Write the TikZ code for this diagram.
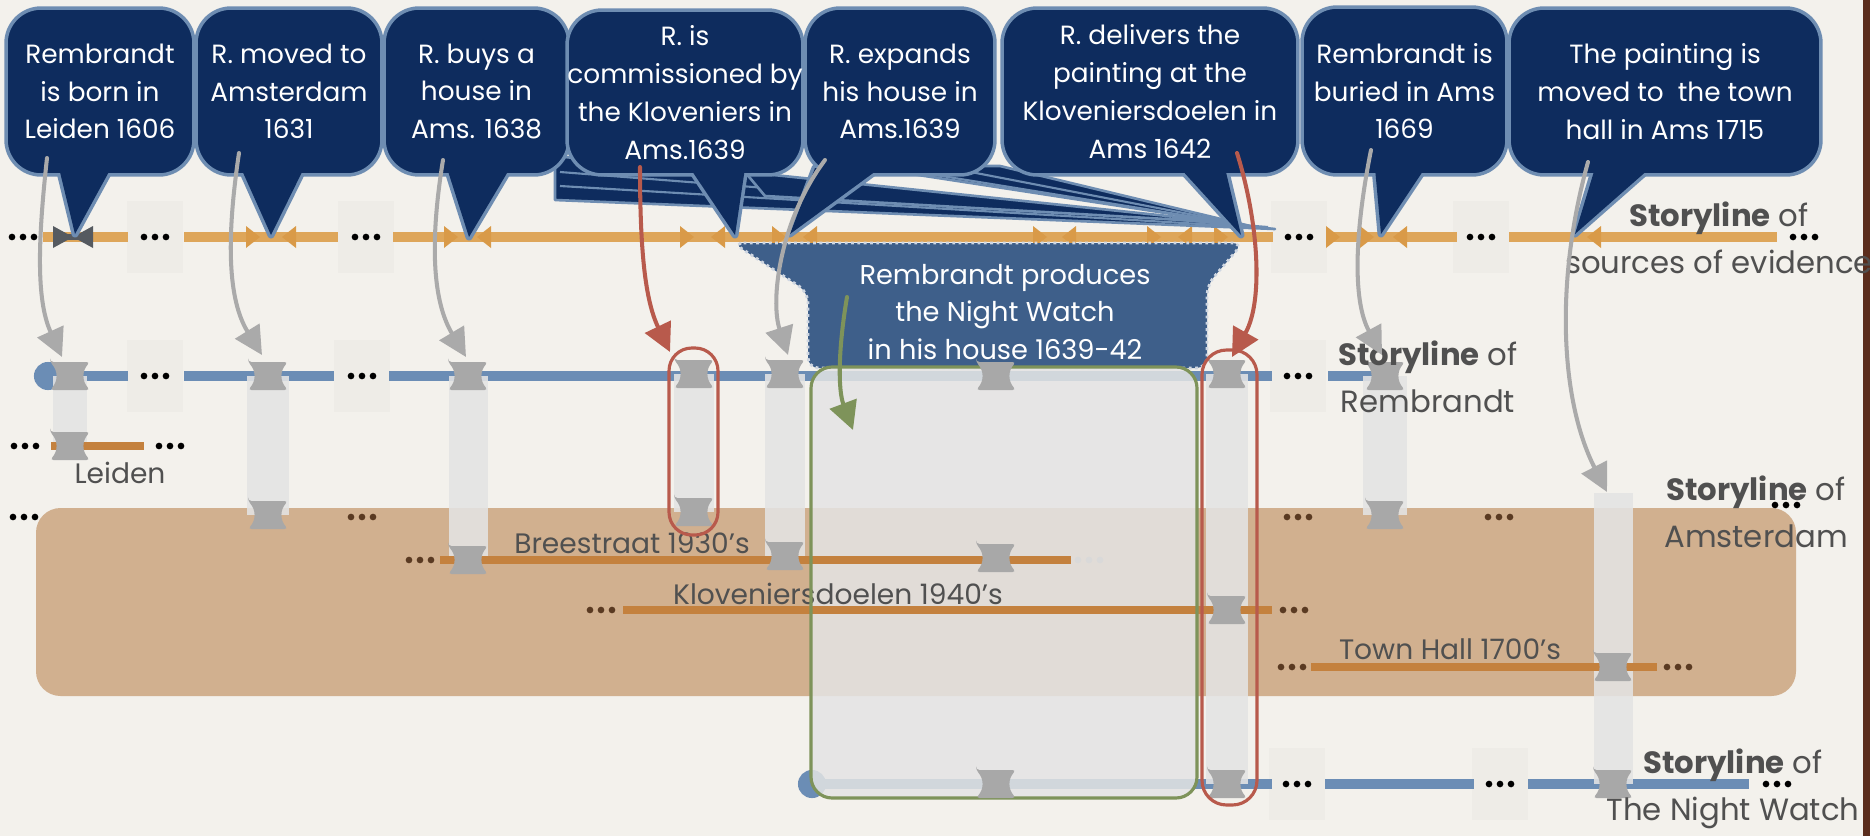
\documentclass[tikz,border=0pt]{standalone}
\usepackage{fontspec}
\setmainfont{Poppins}
\usetikzlibrary{arrows.meta}
\definecolor{bg}{HTML}{F3F1EC}
\definecolor{navy}{HTML}{0E2C5E}
\definecolor{navyedge}{HTML}{6E8DB2}
\definecolor{srcline}{HTML}{DEA65A}
\definecolor{srcmark}{HTML}{D99A48}
\definecolor{blueline}{HTML}{6B8DB5}
\definecolor{placeline}{HTML}{C4813E}
\definecolor{amsbox}{HTML}{D1B08F}
\definecolor{spoolc}{HTML}{A8A8A8}
\definecolor{colc}{HTML}{E4E4E4}
\definecolor{txtgrey}{HTML}{505050}
\definecolor{redc}{HTML}{B85A4C}
\definecolor{greenc}{HTML}{7E935A}
\definecolor{cloudc}{HTML}{3E5F8A}
\definecolor{arrowgrey}{HTML}{AAAAAA}
\definecolor{stripc}{HTML}{5B2D1D}
\definecolor{dotbrown}{HTML}{5A3A22}
\definecolor{markgrey}{HTML}{555A60}
\tikzset{
  cbox/.style={draw=navyedge, line width=2pt, fill=navy, rounded corners=20pt, text=white, align=center, inner sep=0pt, font=\fontsize{15}{21.5}\selectfont},
  ctail/.style={draw=navyedge, line width=4pt, fill=navy, line join=round},
  cfill/.style={fill=navy},
  wedge/.style={draw=navyedge, line width=1.5pt, fill=navy, line join=round},
  story/.style={text=txtgrey, align=center, font=\fontsize{17.5}{26.5}\selectfont, inner sep=0pt},
  placelbl/.style={text=txtgrey, font=\fontsize{16}{19}\selectfont, inner sep=0pt},
  srcseg/.style={srcline, line width=6.2pt},
  blueseg/.style={blueline, line width=5.7pt},
  placeseg/.style={placeline, line width=4.8pt},
  column/.style={fill=colc, fill opacity=0.88},
  sketch/.style={arrowgrey, line width=2.3pt, line cap=round, -{Triangle[length=16pt,width=16pt]}},
  redarrow/.style={sketch, redc},
  greenarrow/.style={sketch, greenc},
  outline/.style={line width=1.8pt, rounded corners=13pt},
  spool/.pic={\fill[spoolc, rounded corners=2pt] (-20,-14) -- (20,-14) .. controls (12,-5) and (12,5) .. (20,14) -- (-20,14) .. controls (-12,5) and (-12,-5) .. (-20,-14) -- cycle;},
  ell/.pic={\fill[#1] (-11,0) circle[radius=1.9pt] (0,0) circle[radius=1.9pt] (11,0) circle[radius=1.9pt];},
  ell/.default=black,
  mr/.pic={\fill[srcmark] (-7,-11) -- (7,0) -- (-7,11) -- cycle;},
  ml/.pic={\fill[srcmark] (7,-11) -- (-7,0) -- (7,11) -- cycle;},
}
\begin{document}
\begin{tikzpicture}[x=0.02cm,y=-0.02cm]
\useasboundingbox (0,0) rectangle (1870,836);
\fill[bg] (0,0) rectangle (1870,836);
\fill[stripc] (1863,0) rectangle (1870,836);
% faint squares behind ellipses
\foreach \x/\y in {155/237,366/237,1299/237,1481/237,155/376,362/376,1298/376,1297/784,1500/784}
  \fill[black, opacity=0.018] (\x-28,\y-36) rectangle (\x+28,\y+36);
% Amsterdam area
\fill[amsbox, rounded corners=14pt] (36,508) rectangle (1796,696);
\foreach \x/\c in {24/black,362/dotbrown,1298/dotbrown,1499/dotbrown} \pic at (\x,517) {ell=\c};
\pic at (1786,505) {ell};
% sources of evidence storyline
\foreach \a/\b in {43/128,184/338,393/1273,1328/1457,1509/1777} \draw[srcseg] (\a,237) -- (\b,237);
\foreach \x in {23,155,366,1299,1481,1804} \pic at (\x,237) {ell};
\fill[markgrey] (53,226) -- (73,237) -- (53,248) -- cycle;
\fill[markgrey] (93,226) -- (73,237) -- (93,248) -- cycle;
\draw[markgrey, line width=3pt] (53,237) -- (93,237);
\foreach \x in {253,451,687,779,1040,1154,1221,1333,1367} \pic at (\x,237) {mr};
\foreach \x in {289,484,718,810,1069,1185,1400,1594} \pic at (\x,237) {ml};
% Rembrandt storyline
\fill[blueline] (48,376) circle[radius=8pt];
\foreach \a/\b in {48/128,184/334,389/1272,1328/1395} \draw[blueseg] (\a,376) -- (\b,376);
\foreach \x in {155,362,1298} \pic at (\x,376) {ell};
% Night Watch storyline
\fill[blueline] (812,784) circle[radius=8pt];
\foreach \a/\b in {812/1272,1325/1474,1528/1749} \draw[blueseg] (\a,784) -- (\b,784);
\foreach \x in {1297,1500,1777} \pic at (\x,784) {ell};
% cloud
\fill[cloudc, rounded corners=6pt] (733,243) -- (1243,243) -- (1207,285) -- (1207,368) -- (808,368) -- (808,292) -- cycle;
\draw[white!75!cloudc, dotted, line width=1.6pt, rounded corners=6pt] (733,243) -- (1243,243) -- (1207,285) -- (1207,368) -- (808,368) -- (808,292) -- cycle;
\node[text=white, align=center, inner sep=0pt, font=\fontsize{15.5}{21.5}\selectfont] (cloud) at (1005,312) {Rembrandt produces\\the Night Watch\\in his house 1639-42};
% green group fill (below place lines)
\fill[colc, fill opacity=0.85, rounded corners=12pt] (811,367) rectangle (1197,798);
% columns
\foreach \a/\b/\c/\d in {53/376/87/446,247/376/289/515,449/376/488/560,674/374/714/512,765/374/805/556,1206/374/1248/784,1363/376/1407/515,1594/493/1633/784}
  \fill[column] (\a,\b) rectangle (\c,\d);
% place storylines
\draw[placeseg] (51,446) -- (144,446);
\pic at (25,446) {ell}; \pic at (170,446) {ell};
\draw[placeseg] (440,560) -- (1071,560);
\pic at (420,560) {ell=dotbrown}; \pic at (1089,560) {ell=black!15};
\draw[placeseg] (623,610) -- (1272,610);
\pic at (601,610) {ell=dotbrown}; \pic at (1294,610) {ell=dotbrown};
\draw[placeseg] (1311,667) -- (1657,667);
\pic at (1292,667) {ell=dotbrown}; \pic at (1678,667) {ell=dotbrown};
\node[placelbl] (leiden) at (120,473) {Leiden};
\node[placelbl] (bree) at (632,543) {Breestraat 1930’s};
\node[placelbl] (klov) at (838,594) {Kloveniersdoelen 1940’s};
\node[placelbl] (town) at (1450,649) {Town Hall 1700’s};
% green group outline
\draw[greenc, line width=1.8pt, rounded corners=12pt] (811,367) rectangle (1197,798);
% spools
\foreach \x/\y in {70/376,70/446,268/376,268/515,468/376,468/560,694/374,694/512,785/374,785/556,996/376,996/558,996/784,1227/374,1227/610,1227/784,1385/376,1385/515,1613/667,1613/784}
  \pic at (\x,\y) {spool};
% red outlines
\draw[redc, outline] (669,348) rectangle (718,535);
\draw[redc, outline, rounded corners=14pt] (1202,350) rectangle (1257,805);
% long wedges (layered speech tails)
\filldraw[wedge] (555,156) -- (1275,229) -- (555,200) -- cycle;
\draw[navyedge, line width=1.2pt] (560,172) -- (1268,227);
\draw[navyedge, line width=1.2pt] (560,186) -- (1268,228);
\filldraw[wedge] (745,172) -- (1235,223) -- (765,196) -- cycle;
\filldraw[wedge] (860,166) -- (1250,226) -- (1000,166) -- cycle;
\draw[navyedge, line width=1.2pt] (905,170) -- (1244,225);
\draw[navyedge, line width=1.2pt] (950,168) -- (1246,225);
% callouts
\filldraw[ctail] (59,168) -- (75,234) -- (111,168) -- cycle;
\node[cbox, minimum width=3.76cm, minimum height=3.34cm] (c1) at (100,91.5) {Rembrandt\\is born in\\Leiden 1606};
\fill[cfill] (59,168) -- (75,234) -- (111,168) -- cycle;
\filldraw[ctail] (241,168) -- (271,235) -- (304,168) -- cycle;
\node[cbox, minimum width=3.72cm, minimum height=3.34cm] (c2) at (289,91.5) {R. moved to\\Amsterdam\\1631};
\fill[cfill] (241,168) -- (271,235) -- (304,168) -- cycle;
\filldraw[ctail] (447,168) -- (469,237) -- (510,168) -- cycle;
\node[cbox, minimum width=3.70cm, minimum height=3.34cm] (c3) at (476.5,91.5) {R. buys a\\house in\\Ams. 1638};
\fill[cfill] (447,168) -- (469,237) -- (510,168) -- cycle;
\filldraw[ctail] (690,168) -- (735,235) -- (745,168) -- cycle;
\node[cbox, minimum width=4.72cm, minimum height=3.30cm] (c4) at (685,92.5) {R. is\\commissioned by\\the Kloveniers in\\Ams.1639};
\fill[cfill] (690,168) -- (735,235) -- (745,168) -- cycle;
\filldraw[ctail] (815,168) -- (790,234) -- (880,168) -- cycle;
\node[cbox, minimum width=3.80cm, minimum height=3.34cm] (c5) at (900,91.5) {R. expands\\his house in\\Ams.1639};
\fill[cfill] (815,168) -- (790,234) -- (880,168) -- cycle;
\filldraw[ctail] (1180,168) -- (1241,235) -- (1225,168) -- cycle;
\node[cbox, minimum width=5.92cm, minimum height=3.34cm] (c6) at (1150,91.5) {R. delivers the\\painting at the\\Kloveniersdoelen in\\Ams 1642};
\fill[cfill] (1180,168) -- (1241,235) -- (1225,168) -- cycle;
\filldraw[ctail] (1375,168) -- (1381,234) -- (1425,168) -- cycle;
\node[cbox, minimum width=4.10cm, minimum height=3.36cm] (c7) at (1404.5,91) {Rembrandt is\\buried in Ams\\1669};
\fill[cfill] (1375,168) -- (1381,234) -- (1425,168) -- cycle;
\filldraw[ctail] (1595,168) -- (1575,234) -- (1650,168) -- cycle;
\node[cbox, minimum width=6.24cm, minimum height=3.34cm] (c8) at (1665,91.5) {The painting is\\moved to~~the town\\hall in Ams 1715};
\fill[cfill] (1595,168) -- (1575,234) -- (1650,168) -- cycle;
% storyline labels
\node[story] (ssrc) at (1719,238) {\textbf{Storyline} of\\sources of evidence};
\node[story] (srem) at (1428,377) {\textbf{Storyline} of\\Rembrandt};
\node[story] (sams) at (1756,512) {\textbf{Storyline} of\\Amsterdam};
\node[story] (snw) at (1733,789) {\textbf{Storyline} of\\The Night Watch};
% arrows
\coordinate (a1s) at (47,158);   \coordinate (a1e) at (62,357);
\coordinate (a2s) at (239,153);  \coordinate (a2e) at (262,355);
\coordinate (a3s) at (443,160);  \coordinate (a3e) at (466,357);
\coordinate (a4s) at (640,167);  \coordinate (a4e) at (670,352);
\coordinate (a5s) at (825,160);  \coordinate (a5e) at (788,355);
\coordinate (a6s) at (1237,153); \coordinate (a6e) at (1232,357);
\coordinate (a7s) at (1371,150); \coordinate (a7e) at (1382,355);
\coordinate (a8s) at (1588,162); \coordinate (a8e) at (1607,492);
\coordinate (ags) at (847,297);  \coordinate (age) at (853,430);
\draw[sketch] (a1s) .. controls (38,240) and (36,300) .. (a1e);
\draw[sketch] (a2s) .. controls (226,240) and (228,300) .. (a2e);
\draw[sketch] (a3s) .. controls (430,240) and (432,300) .. (a3e);
\draw[redarrow] (a4s) .. controls (640,250) and (645,300) .. (a4e);
\draw[sketch] (a5s) .. controls (780,220) and (770,300) .. (a5e);
\draw[redarrow] (a6s) .. controls (1258,220) and (1264,300) .. (a6e);
\draw[sketch] (a7s) .. controls (1355,230) and (1352,300) .. (a7e);
\draw[sketch] (a8s) .. controls (1555,280) and (1560,400) .. (a8e);
\draw[greenarrow] (ags) .. controls (838,350) and (838,390) .. (age);
\end{tikzpicture}
\end{document}
